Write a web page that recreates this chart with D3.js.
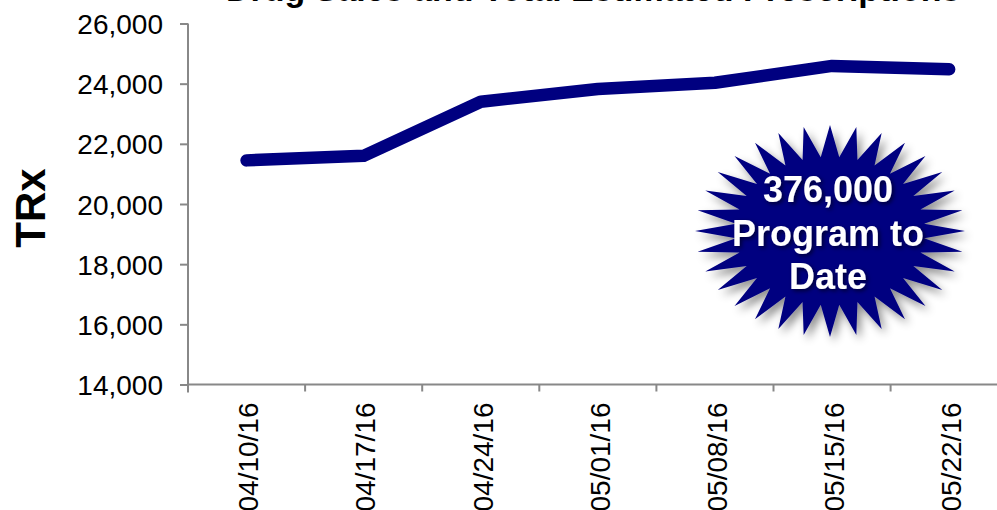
<!DOCTYPE html>
<html>
<head>
<meta charset="utf-8">
<script src="https://cdn.jsdelivr.net/npm/d3@7"></script>
<style>
  html, body { margin: 0; padding: 0; background: #fff; }
  svg { display: block; font-family: "Liberation Sans", Arial, sans-serif; }
</style>
</head>
<body>
<svg id="chart" width="997" height="510"></svg>
<script>
// ---- data ----
const categories = ["04/10/16", "04/17/16", "04/24/16", "05/01/16", "05/08/16", "05/15/16", "05/22/16"];
const trxValues = [21450, 21600, 23400, 23820, 24030, 24590, 24480];
const yTicks = [14000, 16000, 18000, 20000, 22000, 24000, 26000];
const titleText = "Drug Sales and Total Estimated Prescriptions";
const yAxisLabel = "TRx";
const burstLines = ["376,000", "Program to", "Date"];

// ---- layout ----
const W = 997, H = 510;
const plotLeft = 188, plotTop = 23.5, plotBottom = 384.5, bandW = 117.1;
const svg = d3.select("#chart");

const x = d3.scaleBand().domain(categories).range([plotLeft, plotLeft + bandW * categories.length]).padding(0);
const y = d3.scaleLinear().domain([14000, 26000]).range([plotBottom, plotTop]);

const axisColor = "#888888";

// title (mostly cropped above the view, as in the reference)
svg.append("text")
  .attr("x", 226).attr("y", 1)
  .attr("font-size", 34).attr("font-weight", "bold").attr("fill", "#000")
  .text(titleText);

// y axis
const yAxis = svg.append("g").attr("transform", `translate(${plotLeft},0)`)
  .call(d3.axisLeft(y).tickValues(yTicks).tickSize(8).tickPadding(17).tickFormat(d3.format(",")));
yAxis.select(".domain").attr("stroke", axisColor).attr("stroke-width", 2)
  .attr("d", `M0,${plotTop}V${plotBottom + 8}`);
yAxis.selectAll(".tick line").attr("stroke", axisColor).attr("stroke-width", 2);
yAxis.selectAll(".tick text").attr("font-size", 28).attr("fill", "#000")
  .attr("font-family", "'Liberation Sans', Arial, sans-serif").attr("dy", "0.36em");

// x axis (ticks between categories)
const xAxisG = svg.append("g").attr("transform", `translate(0,${plotBottom})`);
xAxisG.append("line").attr("x1", plotLeft).attr("x2", W + 20).attr("y1", 0).attr("y2", 0)
  .attr("stroke", axisColor).attr("stroke-width", 2);
xAxisG.selectAll("line.tk").data(categories.slice(1)).enter().append("line")
  .attr("class", "tk")
  .attr("x1", d => x(d)).attr("x2", d => x(d)).attr("y1", 0).attr("y2", 7)
  .attr("stroke", axisColor).attr("stroke-width", 2);
xAxisG.selectAll("text").data(categories).enter().append("text")
  .attr("transform", d => `translate(${x(d) + x.bandwidth() / 2},${18}) rotate(-90)`)
  .attr("text-anchor", "end").attr("dy", "0.42em")
  .attr("font-size", 28).attr("fill", "#000")
  .text(d => d);

// y axis label
svg.append("text")
  .attr("transform", "translate(30,208) rotate(-90)")
  .attr("text-anchor", "middle").attr("dy", "0.36em")
  .attr("font-size", 42).attr("font-weight", "bold").attr("fill", "#000")
  .text(yAxisLabel);

// line
const line = d3.line()
  .x((d, i) => x(categories[i]) + x.bandwidth() / 2)
  .y(d => y(d));
svg.append("path").datum(trxValues)
  .attr("d", line)
  .attr("fill", "none").attr("stroke", "#000080").attr("stroke-width", 12.5)
  .attr("stroke-linecap", "round").attr("stroke-linejoin", "round");

// starburst
const defs = svg.append("defs");
const sh = defs.append("filter").attr("id", "shadow").attr("x", "-20%").attr("y", "-20%").attr("width", "150%").attr("height", "150%");
sh.append("feDropShadow").attr("dx", 4).attr("dy", 5).attr("stdDeviation", 4)
  .attr("flood-color", "#000").attr("flood-opacity", 0.45);
const tsh = defs.append("filter").attr("id", "tshadow").attr("x", "-10%").attr("y", "-20%").attr("width", "130%").attr("height", "150%");
tsh.append("feDropShadow").attr("dx", 2).attr("dy", 2).attr("stdDeviation", 2)
  .attr("flood-color", "#000").attr("flood-opacity", 0.6);

const cx = 830, cy = 231, rxO = 135, ryO = 106, ratio = 0.7, spikes = 32;
const pts = d3.range(spikes * 2).map(k => {
  const a = Math.PI * k / spikes - Math.PI / 2;
  const r = k % 2 === 0 ? 1 : ratio;
  return [cx + Math.cos(a) * rxO * r, cy + Math.sin(a) * ryO * r];
});
svg.append("path")
  .attr("d", d3.line()(pts) + "Z")
  .attr("fill", "#000080")
  .attr("filter", "url(#shadow)");

const bt = svg.append("g").attr("filter", "url(#tshadow)");
bt.selectAll("text").data(burstLines).enter().append("text")
  .attr("x", 828).attr("y", (d, i) => 202 + i * 43.5)
  .attr("text-anchor", "middle")
  .attr("font-size", 36).attr("font-weight", "bold").attr("fill", "#fff")
  .text(d => d);
</script>
</body>
</html>
